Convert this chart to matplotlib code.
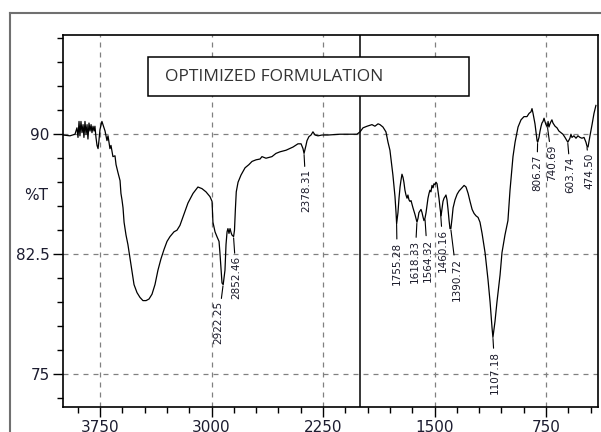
import numpy as np
import matplotlib
matplotlib.use("Agg")
from matplotlib import pyplot as plt
from matplotlib.lines import Line2D
from matplotlib.patches import Rectangle
import matplotlib.transforms as mtransforms

# FTIR spectrum (wavenumber, cm-1 / transmittance, %)
wavenumber = [
    4000, 3953, 3919, 3906, 3899, 3892, 3886, 3879, 3872, 3865, 3859, 3852,
    3845, 3838, 3832, 3825, 3818, 3811, 3805, 3798, 3791, 3785, 3778, 3771,
    3764, 3758, 3751, 3738, 3731, 3717, 3704, 3697, 3684, 3677, 3664, 3650,
    3643, 3630, 3616, 3610, 3603, 3596, 3589, 3576, 3563, 3542, 3522, 3502,
    3482, 3462, 3441, 3421, 3401, 3381, 3361, 3341, 3320, 3300, 3280, 3253,
    3233, 3213, 3186, 3159, 3125, 3092, 3065, 3038, 3011, 2997, 2991, 2977,
    2964, 2950, 2944, 2937, 2930, 2922, 2910, 2903, 2896, 2890, 2883, 2876,
    2869, 2863, 2852, 2846, 2840, 2834, 2822, 2802, 2775, 2749, 2728, 2701,
    2674, 2661, 2634, 2594, 2567, 2540, 2499, 2452, 2419, 2398, 2385, 2378,
    2365, 2358, 2345, 2331, 2318, 2304, 2284, 2257, 2217, 2136, 2022, 2001,
    1981, 1954, 1921, 1901, 1880, 1867, 1847, 1827, 1813, 1800, 1786, 1780,
    1766, 1759, 1755, 1746, 1739, 1732, 1726, 1719, 1712, 1706, 1699, 1692,
    1685, 1679, 1672, 1665, 1658, 1645, 1632, 1618, 1611, 1605, 1598, 1591,
    1584, 1578, 1571, 1564, 1557, 1551, 1544, 1537, 1531, 1524, 1517, 1510,
    1504, 1497, 1490, 1483, 1477, 1470, 1463, 1456, 1450, 1443, 1436, 1429,
    1423, 1416, 1409, 1402, 1396, 1390, 1382, 1375, 1362, 1348, 1335, 1315,
    1301, 1288, 1274, 1261, 1247, 1234, 1221, 1207, 1194, 1180, 1160, 1140,
    1126, 1113, 1107, 1093, 1080, 1059, 1046, 1026, 1006, 992, 972, 958,
    938, 918, 898, 878, 864, 851, 844, 837, 831, 824, 817, 810,
    806, 797, 790, 783, 777, 770, 763, 757, 750, 743, 740, 736,
    730, 723, 716, 710, 703, 689, 676, 663, 649, 636, 622, 609,
    603, 589, 582, 575, 562, 548, 535, 521, 508, 494, 481, 474,
    467, 454, 440, 427, 414,
]
transmittance = [
    89.95, 89.9, 90.0, 90.4, 89.8, 90.8, 89.9, 90.8, 90.1, 90.6, 89.8, 90.8,
    90.0, 90.6, 89.7, 90.7, 90.2, 90.6, 90.1, 90.5, 90.2, 90.5, 89.8, 89.3,
    89.1, 89.6, 90.3, 90.8, 90.6, 90.2, 89.6, 89.9, 89.1, 89.3, 88.6, 88.65,
    88.1, 87.6, 87.1, 86.3, 85.9, 85.4, 84.5, 83.7, 83.1, 81.8, 80.6, 80.1,
    79.8, 79.6, 79.6, 79.7, 80.0, 80.6, 81.5, 82.2, 82.8, 83.3, 83.6, 83.9,
    84.0, 84.3, 85.0, 85.7, 86.3, 86.7, 86.6, 86.4, 86.1, 85.8, 84.5, 83.9,
    83.6, 83.3, 82.6, 81.6, 80.7, 80.6, 81.5, 83.1, 83.9, 84.1, 83.8, 84.1,
    83.85, 83.7, 83.6, 84.0, 85.3, 86.4, 87.0, 87.45, 87.9, 88.1, 88.3, 88.4,
    88.45, 88.6, 88.5, 88.6, 88.8, 88.9, 89.0, 89.2, 89.4, 89.4, 89.1, 88.8,
    89.3, 89.6, 89.85, 89.95, 90.15, 89.95, 89.9, 89.95, 89.95, 90.0, 90.0, 90.15,
    90.4, 90.5, 90.6, 90.5, 90.65, 90.6, 90.45, 90.15, 89.5, 89.0, 87.95, 87.45,
    86.1, 85.1, 84.4, 85.1, 86.0, 86.7, 87.1, 87.5, 87.3, 87.0, 86.5, 86.2,
    86.0, 86.2, 85.9, 85.8, 85.85, 85.4, 85.0, 84.5, 84.75, 85.1, 85.2, 85.3,
    85.1, 84.85, 84.6, 84.75, 85.1, 85.5, 86.0, 86.3, 86.5, 86.4, 86.8, 86.65,
    86.9, 86.85, 87.0, 86.9, 86.5, 86.0, 85.4, 84.9, 85.3, 85.8, 86.0, 86.1,
    86.2, 85.9, 85.3, 84.6, 84.1, 84.1, 84.75, 85.4, 85.9, 86.25, 86.45, 86.65,
    86.8, 86.7, 86.3, 85.8, 85.3, 85.05, 84.9, 84.8, 84.5, 83.8, 82.6, 80.9,
    79.5, 77.9, 77.3, 78.3, 79.5, 81.2, 82.6, 83.7, 84.6, 86.5, 88.6, 89.5,
    90.45, 90.9, 91.1, 91.1, 91.3, 91.4, 91.6, 91.3, 91.0, 90.65, 90.15, 89.6,
    89.5, 89.8, 90.2, 90.5, 90.7, 90.8, 91.0, 90.8, 90.6, 90.5, 90.5, 90.8,
    90.45, 90.65, 90.8, 90.9, 90.7, 90.5, 90.4, 90.2, 90.1, 90.0, 89.8, 89.6,
    89.5, 89.75, 90.0, 89.8, 89.9, 89.75, 89.9, 89.8, 89.75, 89.8, 89.5, 89.25,
    89.2, 89.9, 90.6, 91.3, 91.8,
]

# labelled peaks and where their labels sit (offset from the dip, in points)
peaks = [2922.25, 2852.46, 2378.31, 1755.28, 1618.33, 1564.32, 1460.16,
         1390.72, 1107.18, 806.27, 740.69, 603.74, 474.50]
label_dx = [-3.5, 2, 1.5, 0.5, -1.5, 2, 2, 4.5, 1.5, -0.5, 3.5, 2, 1.5]
label_dy = [-12, -14, -11.5, -13.5, -13, -14.5, -13, -21, -10, -9, -13, -10.5, -5]

fig = plt.figure(figsize=(6.01, 4.32), dpi=100)
ax = fig.add_axes([0.1048, 0.0579, 0.8902, 0.861])

wn = np.array(wavenumber, dtype=float)
tr = np.array(transmittance, dtype=float)
ax.plot(wn, tr, color="black", lw=0.9, zorder=3)

ax.set_xlim(4000, 400)
ax.set_ylim(72.95, 96.2)
ax.set_xticks([3750, 3000, 2250, 1500, 750])
ax.set_xticks(np.arange(3900, 400, -150), minor=True)
ax.set_yticks([75, 82.5, 90])
ax.set_yticklabels(["75", "82.5", "90"])
ax.set_yticks(np.arange(73.5, 96.1, 1.5), minor=True)
ax.tick_params(axis="both", which="major", labelsize=11, labelcolor="#1c1c30",
               length=7, width=1, pad=2.5)
ax.tick_params(axis="both", which="minor", length=4, width=1)
for s in ax.spines.values():
    s.set_linewidth(1.2)

ax.grid(True, which="major", linestyle=(0, (4, 4)), color="#808080", lw=0.9)
ax.set_axisbelow(True)
ax.axvline(2000, color="black", lw=1.1, zorder=2)

tr_ = mtransforms.blended_transform_factory(ax.transAxes, ax.transData)
ax.text(-0.05, 86.2, "%T", transform=tr_, ha="center", va="center",
        fontsize=11, color="#1c1c30")

for p, dx, dy in zip(peaks, label_dx, label_dy):
    yp = np.interp(p, wn[::-1], tr[::-1])
    ax.annotate(f"{p:.2f}", xy=(p, yp), xytext=(dx, dy),
                textcoords="offset points", rotation=90, ha="center", va="top",
                fontsize=7.5, color="#1a1a2a",
                arrowprops=dict(arrowstyle="-", lw=0.8, color="black",
                                shrinkA=0, shrinkB=1), zorder=4)

# title box
fig.add_artist(Rectangle((0.2463, 0.7778), 0.5341, 0.0903, transform=fig.transFigure,
                         facecolor="white", edgecolor="black", lw=1.1, zorder=5))
fig.text(0.2745, 0.8218, "OPTIMIZED FORMULATION", family="Open Sans",
         fontsize=12.5, color="#333333", va="center", ha="left", zorder=6)

# outer frame
fig.add_artist(Line2D([0.0166, 1.0], [0.970, 0.970], color="#707070", lw=1.5))
fig.add_artist(Line2D([0.0166, 0.0166], [0.0, 0.970], color="#707070", lw=1.5))

fig.savefig("out.png", dpi=100)
